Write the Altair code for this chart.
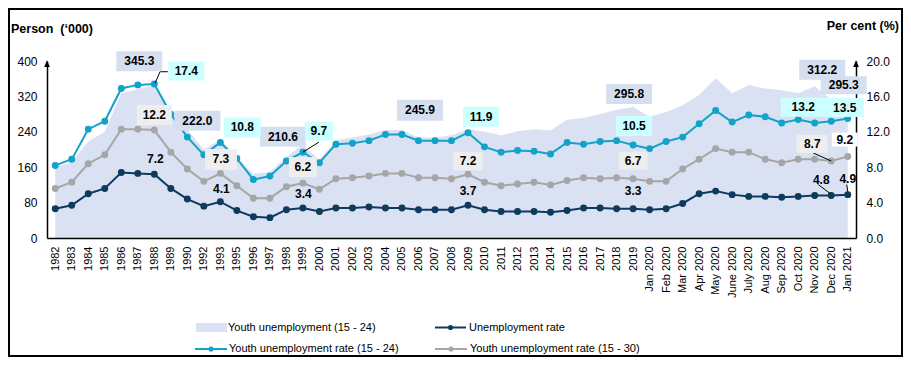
import altair as alt
import pandas as pd

categories = ["1982", "1983", "1984", "1985", "1986", "1987", "1988", "1989", "1990",
              "1992", "1993", "1995", "1996", "1997", "1998", "1999", "2000", "2001",
              "2002", "2003", "2004", "2005", "2006", "2007", "2008", "2009", "2010",
              "2011", "2012", "2013", "2014", "2015", "2016", "2017", "2018", "2019",
              "Jan 2020", "Feb 2020", "Mar 2020", "Apr 2020", "May 2020", "June 2020",
              "July 2020", "Aug 2020", "Sep 2020", "Oct 2020", "Nov 2020", "Dec 2020",
              "Jan 2021"]

youth_unemployment = [160, 172, 218, 240, 327, 336, 345.3, 290, 245,
                      200, 222.0,
                      180, 145, 149, 183, 210.6, 177, 221, 227, 234, 244, 244, 227, 227, 232,
                      245.9, 240, 232, 241, 246, 243, 267, 271, 280, 290, 295.8,
                      274, 285, 300, 323, 361, 327, 346, 338, 334, 327, 343, 312.2, 295.3]

youth_rate_15_24 = [8.2, 8.9, 12.3, 13.2, 16.9, 17.3, 17.4, 14.0, 11.4,
                    9.4, 10.8,
                    9.0, 6.6, 7.0, 8.7, 9.7, 8.5, 10.6, 10.7, 11.0, 11.7, 11.7, 11.0, 11.0, 11.0,
                    11.9, 10.3, 9.7, 9.9, 9.8, 9.5, 10.8, 10.6, 10.9, 11.0, 10.5,
                    10.1, 10.9, 11.4, 12.9, 14.4, 13.1, 13.9, 13.7, 13.0, 13.4, 13.0, 13.2, 13.5]

unemployment_rate = [3.3, 3.7, 5.0, 5.6, 7.4, 7.3, 7.2, 5.6, 4.4,
                     3.6, 4.1,
                     3.1, 2.4, 2.3, 3.2, 3.4, 3.0, 3.4, 3.4, 3.5, 3.4, 3.4, 3.2, 3.2, 3.2,
                     3.7, 3.2, 3.0, 3.0, 3.0, 2.9, 3.1, 3.4, 3.4, 3.3, 3.3,
                     3.2, 3.3, 3.9, 5.0, 5.3, 4.9, 4.7, 4.7, 4.6, 4.7, 4.8, 4.8, 4.9]

youth_rate_15_30 = [5.6, 6.3, 8.4, 9.4, 12.3, 12.3, 12.2, 9.7, 7.8,
                    6.4, 7.3,
                    5.9, 4.5, 4.5, 5.8, 6.2, 5.5, 6.7, 6.8, 7.0, 7.3, 7.3, 6.8, 6.8, 6.7,
                    7.2, 6.3, 5.9, 6.1, 6.3, 6.0, 6.5, 6.8, 6.7, 6.8, 6.7,
                    6.4, 6.4, 7.8, 8.9, 10.1, 9.7, 9.7, 8.9, 8.5, 8.9, 8.9, 8.7, 9.2]

left_ticks = [0, 80, 160, 240, 320, 400]
right_ticks = [0, 4, 8, 12, 16, 20]

FONT = "Liberation Sans"
C_AREA = "#D9E1F2"
C_BLUE = "#12A3C8"
C_DARK = "#0E3A5C"
C_GRAY = "#A6A6A6"
BOX_AREA = "#D6DFF0"
BOX_BLUE = "#CCFFFF"
BOX_GRAY = "#EEEEEE"

W, H = 809, 177

df = pd.DataFrame({
    "cat": categories,
    "youth": youth_unemployment,
    "yr24": youth_rate_15_24,
    "ur": unemployment_rate,
    "yr30": youth_rate_15_30,
})
base = alt.Chart(df)

x_enc = alt.X("cat:O", sort=categories,
              scale=alt.Scale(type="point", domain=categories, padding=0.5),
              axis=alt.Axis(title=None, labelAngle=270, labelFontSize=11, labelFont=FONT,
                            labelColor="black", labelPadding=8, ticks=False, grid=False,
                            domainColor="black", domainWidth=1.5, labelOverlap=False,
                            zindex=1))

yL = alt.Scale(domain=[0, 400], nice=False, zero=True)
yR = alt.Scale(domain=[0, 20], nice=False, zero=True)

left_axis = alt.Axis(orient="left", values=left_ticks, format="d", title=None, ticks=False,
                     grid=False, domainColor="black", domainWidth=1.5, labelPadding=10,
                     labelFontSize=12, labelFont=FONT, labelColor="black")
right_axis = alt.Axis(orient="right", values=right_ticks, format=".1f", title=None, ticks=False,
                      grid=False, domainColor="black", domainWidth=1.5, labelPadding=10,
                      labelFontSize=12, labelFont=FONT, labelColor="black")

layers = []

# area
layers.append(base.mark_area(color=C_AREA, opacity=1).encode(
    x=x_enc, y=alt.Y("youth:Q", scale=yL, axis=left_axis)))

# lines + points
first = True
for field, color in [("yr30", C_GRAY), ("ur", C_DARK), ("yr24", C_BLUE)]:
    ax = right_axis if field == "yr24" else None
    layers.append(base.mark_line(color=color, strokeWidth=2).encode(
        x=x_enc, y=alt.Y(f"{field}:Q", scale=yR, axis=ax)))
    layers.append(base.mark_circle(color=color, size=48, opacity=1).encode(
        x=x_enc, y=alt.Y(f"{field}:Q", scale=yR, axis=None)))


def rect_path(w, h):
    hh = h / w
    return f"M-1,{-hh:.4f}H1V{hh:.4f}H-1Z"


def labels(field, scale, specs, box_color):
    out = []
    for spec in specs:
        cat, dx, dy = spec[0], spec[1], spec[2]
        sub = base.transform_filter(alt.datum.cat == cat)
        yenc = alt.Y(f"{field}:Q", scale=scale, axis=None)
        bc = spec[5] if len(spec) > 5 else box_color
        if bc:
            w, h = spec[3], spec[4]
            out.append(sub.mark_point(shape=rect_path(w, h), size=w * w, filled=True,
                                      color=bc, opacity=1, strokeWidth=0,
                                      xOffset=dx, yOffset=dy).encode(x=x_enc, y=yenc))
        out.append(sub.mark_text(dx=dx, dy=dy, fontSize=12, fontWeight="bold", font=FONT,
                                 color="black", align="center", baseline="middle").encode(
            x=x_enc, y=yenc, text=alt.Text(f"{field}:Q", format=".1f")))
    return out


def leader(field, scale, cat, x1, y1, x2, y2):
    sub = base.transform_filter(alt.datum.cat == cat)
    return sub.mark_rule(color="black", strokeWidth=1, xOffset=x1, yOffset=y1,
                         x2Offset=x2, y2Offset=y2).encode(
        x=x_enc, x2=alt.X2("cat"),
        y=alt.Y(f"{field}:Q", scale=scale, axis=None), y2=alt.Y2(field))


# leader lines
layers.append(leader("yr24", yR, "1988", 0.7, -0.7, 5.7, -12.3))
layers.append(leader("yr24", yR, "1988", 5.7, -12.3, 13.5, -12.3))
layers.append(leader("yr24", yR, "1999", 0, 0, 16, -10))
layers.append(leader("yr30", yR, "Dec 2020", -18, -8, 0, 0))
layers.append(leader("ur", yR, "Dec 2020", -13, -11, -0.5, -1.5))
layers.append(leader("ur", yR, "Jan 2021", -1, -10, 0, -3))

area_specs = [("1988", -15, -24, 46, 20), ("1993", -23, -19, 46, 20),
              ("1999", -20, -8, 46, 20), ("2009", -48, -19, 46, 21),
              ("2019", -4, -13, 46, 20), ("Dec 2020", -9, -30, 46, 20),
              ("Jan 2021", -4, -22, 46, 18)]
blue_specs = [("1988", 32, -13, 36, 19), ("1993", 22, -15, 37, 20),
              ("1999", 16, -21, 28, 19), ("2009", 13, -16, 36, 20),
              ("2019", 1, -19, 36, 20), ("Dec 2020", -28, -14, 45, 19),
              ("Jan 2021", -3, -11, 38, 19)]
gray_specs = [("1988", 0, -15, 35, 20), ("1993", 0.6, -14, 32, 21),
              ("1999", 0, -16, 28, 20), ("2009", 0, -13, 29, 18),
              ("2019", 0, -18, 29, 18), ("Dec 2020", -19, -17, 31, 18),
              ("Jan 2021", -3, -17, 26, 14, "white")]
dark_specs = [("1988", 1, -15), ("1993", 1, -13), ("1999", 0.5, -14), ("2009", 0, -14),
              ("2019", 0, -18), ("Dec 2020", -10, -16), ("Jan 2021", 0, -16)]

layers += labels("youth", yL, area_specs, BOX_AREA)
layers += labels("yr30", yR, gray_specs, BOX_GRAY)
layers += labels("ur", yR, dark_specs, None)
layers += labels("yr24", yR, blue_specs, BOX_BLUE)

# decorations
deco = alt.Chart(pd.DataFrame({"a": [0]}))
arrow = "M0,-1L0.65,0.6L-0.65,0.6Z"
for ax_x in [0, W]:
    layers.append(deco.mark_point(shape=arrow, size=76, filled=True, color="black", opacity=1)
                  .encode(x=alt.value(ax_x), y=alt.value(3.5)))

layers.append(deco.mark_text(text="Person\u00a0 (\u2018000)", align="left", baseline="middle",
                             fontSize=12.5, fontWeight="bold", font=FONT, color="black")
              .encode(x=alt.value(-36), y=alt.value(-32)))
layers.append(deco.mark_text(text="Per cent (%)", align="right", baseline="middle",
                             fontSize=12.5, fontWeight="bold", font=FONT, color="black")
              .encode(x=alt.value(852), y=alt.value(-35)))

# legend
r1, r2 = 266.5, 288
layers.append(deco.mark_rect(color=C_AREA, opacity=1).encode(
    x=alt.value(149), x2=alt.value(180), y=alt.value(r1 - 4.5), y2=alt.value(r1 + 4.5)))
for (x1, x2, yy, color) in [(388, 419, r1, C_DARK), (148, 180, r2, C_BLUE), (388, 420, r2, C_GRAY)]:
    layers.append(deco.mark_rule(color=color, strokeWidth=2).encode(
        x=alt.value(x1), x2=alt.value(x2), y=alt.value(yy)))
    layers.append(deco.mark_circle(color=color, size=26, opacity=1).encode(
        x=alt.value((x1 + x2) / 2), y=alt.value(yy)))
for (tx, yy, txt) in [(181, r1, "Youth unemployment (15 - 24)"),
                      (422, r1, "Unemployment rate"),
                      (182, r2, "Youth unemployment rate (15 - 24)"),
                      (423, r2, "Youth unemployment rate (15 - 30)")]:
    layers.append(deco.mark_text(text=txt, align="left", baseline="middle", fontSize=11,
                                 font=FONT, color="black").encode(x=alt.value(tx), y=alt.value(yy)))

# outer frame
layers.append(deco.mark_rect(fillOpacity=0, stroke="black", strokeWidth=2).encode(
    x=alt.value(-38), x2=alt.value(855), y=alt.value(-52), y2=alt.value(295)))

chart = alt.layer(*layers).resolve_scale(y="independent").properties(
    width=W, height=H,
    autosize=alt.AutoSizeParams(type="none"),
    padding={"left": 39, "top": 53, "right": 47, "bottom": 119},
    background="white",
).configure_view(stroke=None)

chart.save("out.html", embed_options={"renderer": "svg", "actions": False})
